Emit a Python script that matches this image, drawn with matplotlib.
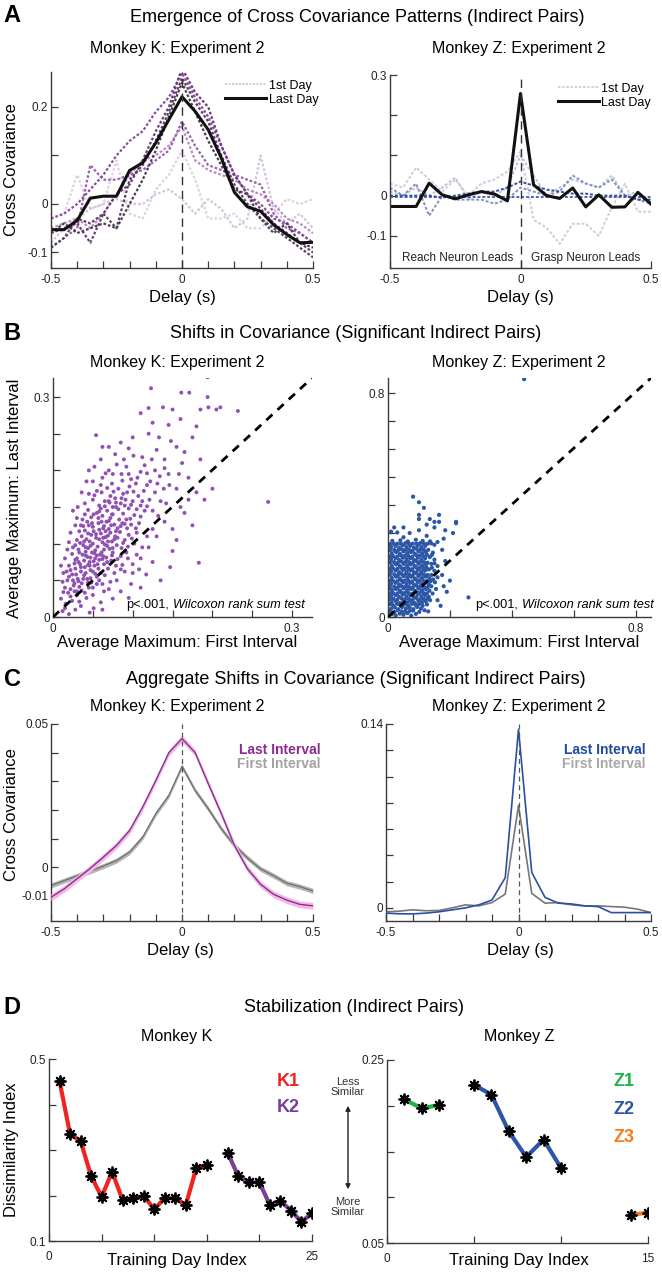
import numpy as np
import matplotlib
matplotlib.use('Agg')
import matplotlib.pyplot as plt
from matplotlib.lines import Line2D

plt.rcParams['font.family'] = ['Liberation Sans', 'DejaVu Sans']

# ---------------- DATA ----------------
delays = [-0.5, -0.45, -0.4, -0.35, -0.3, -0.25, -0.2, -0.15, -0.1, -0.05, 0.0,
          0.05, 0.1, 0.15, 0.2, 0.25, 0.3, 0.35, 0.4, 0.45, 0.5]

# Panel A, Monkey K: daily curves (dotted, first -> later days) and last day
ak_days = [
    [-0.03, -0.02, 0.06, -0.01, 0.0, 0.09, -0.02, -0.03, 0.03, 0.06, 0.11, 0.05, -0.03, -0.03, -0.02, -0.05, -0.05, -0.02, 0.01, 0.0, 0.01],
    [-0.08, -0.05, -0.03, -0.01, 0.0, 0.01, 0.0, 0.0, 0.02, 0.03, 0.01, -0.02, 0.01, -0.01, -0.05, -0.03, 0.10, -0.01, -0.04, -0.02, -0.05],
    [-0.05, -0.04, -0.03, -0.05, -0.02, 0.02, 0.06, 0.09, 0.10, 0.12, 0.16, 0.09, 0.07, 0.06, 0.05, 0.03, 0.02, 0.0, -0.03, -0.04, -0.06],
    [-0.09, -0.07, -0.05, 0.08, 0.05, 0.05, 0.06, 0.07, 0.09, 0.11, 0.17, 0.12, 0.08, 0.07, 0.06, 0.05, 0.04, -0.02, -0.05, -0.06, -0.08],
    [-0.03, -0.02, 0.0, 0.03, 0.06, 0.10, 0.13, 0.15, 0.19, 0.22, 0.27, 0.22, 0.18, 0.12, 0.06, 0.02, 0.0, -0.03, -0.04, -0.06, -0.08],
    [-0.06, -0.05, -0.04, -0.08, -0.02, 0.02, 0.04, 0.09, 0.15, 0.20, 0.28, 0.23, 0.20, 0.12, 0.06, 0.02, -0.01, -0.04, -0.06, -0.08, -0.10],
    [-0.09, -0.07, -0.03, -0.04, -0.02, -0.05, 0.05, 0.08, 0.13, 0.19, 0.26, 0.21, 0.17, 0.10, 0.04, 0.0, -0.03, -0.05, -0.07, -0.09, -0.11],
    [-0.06, -0.04, -0.06, -0.05, -0.04, -0.05, 0.0, 0.05, 0.11, 0.18, 0.25, 0.19, 0.13, 0.08, 0.03, 0.02, -0.03, -0.06, -0.04, -0.08, -0.09],
]
ak_last = [-0.053, -0.053, -0.034, 0.012, 0.016, 0.016, 0.069, 0.085, 0.126, 0.174, 0.221,
           0.191, 0.153, 0.095, 0.024, -0.006, -0.015, -0.043, -0.063, -0.080, -0.079]

# Panel A, Monkey Z
az_days = [
    [0.03, 0.02, 0.07, 0.04, 0.01, 0.04, 0.0, 0.03, 0.04, 0.06, 0.11, -0.06, -0.08, -0.12, -0.07, -0.07, -0.10, -0.03, 0.03, -0.04, -0.04],
    [0.01, 0.0, 0.02, 0.0, 0.02, 0.045, -0.01, 0.01, 0.0, 0.02, 0.10, 0.05, 0.0, 0.02, 0.04, 0.03, 0.02, 0.05, 0.0, 0.01, -0.02],
    [0.02, 0.0, 0.03, -0.05, 0.0, -0.01, -0.01, -0.01, -0.02, -0.01, 0.02, 0.01, 0.0, 0.01, 0.05, 0.03, 0.02, 0.04, 0.0, -0.01, -0.02],
    [-0.003, -0.003, -0.003, -0.003, -0.003, -0.003, -0.003, -0.003, -0.003, -0.003, -0.003, -0.003, -0.003, -0.003, -0.003, -0.003, -0.003, -0.003, -0.003, -0.003, -0.003],
    [0.0, 0.0, 0.0, 0.0, -0.005, 0.0, 0.005, 0.01, 0.01, 0.02, 0.035, 0.025, 0.015, 0.01, 0.005, 0.005, 0.0, 0.0, 0.0, -0.01, -0.01],
]
az_last = [-0.027, -0.027, -0.027, 0.031, 0.002, -0.008, 0.002, 0.010, 0.004, -0.013, 0.254,
           0.027, 0.0, -0.007, 0.019, -0.028, 0.002, -0.029, -0.028, 0.008, -0.021]

# Panel B, Monkey K scatter (first interval max, last interval max)
bk_pts = [
    (0.012, 0.008), (0.020, 0.004), (0.028, 0.010), (0.016, 0.018), (0.024, 0.022), (0.035, 0.015), (0.010, 0.025),
    (0.030, 0.030), (0.042, 0.026), (0.019, 0.033), (0.051, 0.012), (0.060, 0.020), (0.046, 0.006),
    (0.015, 0.040), (0.022, 0.038), (0.027, 0.046), (0.033, 0.041), (0.038, 0.052), (0.020, 0.055), (0.029, 0.058),
    (0.044, 0.047), (0.050, 0.040), (0.036, 0.036), (0.025, 0.050), (0.041, 0.060), (0.055, 0.055), (0.062, 0.045),
    (0.070, 0.038), (0.017, 0.062), (0.031, 0.052), (0.047, 0.053), (0.080, 0.050), (0.012, 0.048),
    (0.020, 0.070), (0.028, 0.066), (0.034, 0.072), (0.040, 0.068), (0.046, 0.075), (0.052, 0.070), (0.058, 0.078),
    (0.064, 0.072), (0.030, 0.080), (0.037, 0.085), (0.043, 0.082), (0.049, 0.088), (0.055, 0.084), (0.061, 0.088),
    (0.067, 0.081), (0.073, 0.077), (0.079, 0.070), (0.024, 0.086), (0.085, 0.083), (0.032, 0.075), (0.047, 0.064),
    (0.057, 0.066), (0.069, 0.066), (0.090, 0.062), (0.100, 0.072), (0.015, 0.080), (0.039, 0.077), (0.062, 0.079),
    (0.075, 0.088), (0.053, 0.080),
    (0.025, 0.095), (0.032, 0.092), (0.038, 0.098), (0.044, 0.094), (0.050, 0.100), (0.056, 0.096), (0.062, 0.102),
    (0.068, 0.097), (0.074, 0.103), (0.080, 0.098), (0.030, 0.105), (0.036, 0.110), (0.042, 0.106), (0.048, 0.112),
    (0.054, 0.108), (0.060, 0.114), (0.066, 0.109), (0.072, 0.115), (0.078, 0.110), (0.084, 0.116), (0.090, 0.105),
    (0.040, 0.118), (0.058, 0.119), (0.070, 0.120), (0.095, 0.112), (0.020, 0.102), (0.046, 0.103), (0.064, 0.092),
    (0.086, 0.094), (0.102, 0.100),
    (0.035, 0.125), (0.043, 0.130), (0.050, 0.123), (0.057, 0.128), (0.064, 0.124), (0.070, 0.131), (0.077, 0.126),
    (0.083, 0.133), (0.090, 0.127), (0.097, 0.134), (0.040, 0.140), (0.048, 0.136), (0.055, 0.142), (0.062, 0.138),
    (0.068, 0.145), (0.075, 0.140), (0.082, 0.147), (0.088, 0.141), (0.095, 0.148), (0.102, 0.139), (0.030, 0.135),
    (0.108, 0.128), (0.060, 0.148), (0.072, 0.135), (0.115, 0.145), (0.025, 0.145),
    (0.040, 0.155), (0.050, 0.160), (0.058, 0.152), (0.065, 0.158), (0.072, 0.165), (0.079, 0.156), (0.086, 0.162),
    (0.093, 0.170), (0.100, 0.158), (0.107, 0.165), (0.114, 0.172), (0.121, 0.160), (0.055, 0.172), (0.068, 0.176),
    (0.082, 0.175), (0.096, 0.178), (0.110, 0.152), (0.128, 0.170), (0.045, 0.168), (0.135, 0.158), (0.075, 0.150),
    (0.090, 0.152),
    (0.050, 0.185), (0.062, 0.190), (0.074, 0.182), (0.086, 0.195), (0.098, 0.188), (0.110, 0.198), (0.122, 0.185),
    (0.134, 0.192), (0.146, 0.180), (0.070, 0.200), (0.092, 0.205), (0.115, 0.207), (0.140, 0.203), (0.158, 0.195),
    (0.045, 0.200), (0.128, 0.200), (0.104, 0.182), (0.080, 0.208),
    (0.060, 0.215), (0.078, 0.222), (0.095, 0.230), (0.112, 0.218), (0.130, 0.228), (0.148, 0.240), (0.165, 0.225),
    (0.100, 0.245), (0.120, 0.250), (0.085, 0.238), (0.140, 0.215), (0.175, 0.245), (0.155, 0.232), (0.070, 0.232),
    (0.185, 0.215),
    (0.054, 0.248), (0.125, 0.265), (0.145, 0.262), (0.160, 0.270), (0.110, 0.278), (0.180, 0.260), (0.138, 0.286),
    (0.120, 0.285), (0.150, 0.283), (0.185, 0.283), (0.205, 0.283), (0.195, 0.286), (0.232, 0.281), (0.123, 0.312),
    (0.161, 0.306), (0.171, 0.306), (0.194, 0.300), (0.194, 0.327), (0.210, 0.286),
    (0.100, 0.060), (0.110, 0.080), (0.120, 0.095), (0.130, 0.110), (0.140, 0.130), (0.150, 0.120), (0.160, 0.150),
    (0.170, 0.160), (0.180, 0.170), (0.125, 0.075), (0.135, 0.050), (0.150, 0.090), (0.147, 0.068), (0.117, 0.058),
    (0.165, 0.142), (0.190, 0.160), (0.200, 0.175), (0.175, 0.125), (0.155, 0.105), (0.270, 0.157), (0.098, 0.045),
    (0.085, 0.035), (0.075, 0.025), (0.110, 0.040), (0.062, 0.010), (0.095, 0.026), (0.183, 0.074),
    (0.033, 0.088), (0.041, 0.095), (0.047, 0.081), (0.053, 0.091), (0.059, 0.085), (0.065, 0.099), (0.071, 0.093),
    (0.077, 0.106), (0.039, 0.103), (0.051, 0.117), (0.063, 0.121), (0.069, 0.111), (0.081, 0.121), (0.087, 0.128),
    (0.057, 0.135), (0.045, 0.125), (0.093, 0.121), (0.067, 0.130), (0.074, 0.140), (0.079, 0.150), (0.035, 0.062),
    (0.027, 0.073), (0.022, 0.064), (0.044, 0.071), (0.050, 0.062), (0.060, 0.060), (0.036, 0.046), (0.045, 0.040),
    (0.018, 0.050), (0.030, 0.035),
    (0.026, 0.043), (0.032, 0.049), (0.039, 0.057), (0.024, 0.058), (0.043, 0.052), (0.048, 0.047), (0.053, 0.059),
    (0.058, 0.050), (0.065, 0.057), (0.072, 0.048),
    (0.028, 0.078), (0.035, 0.068), (0.041, 0.084), (0.046, 0.070), (0.051, 0.076), (0.056, 0.072), (0.063, 0.083),
    (0.068, 0.075), (0.074, 0.084), (0.081, 0.079), (0.087, 0.071), (0.094, 0.080),
    (0.028, 0.098), (0.034, 0.101), (0.041, 0.089), (0.047, 0.097), (0.052, 0.087), (0.058, 0.106), (0.063, 0.108),
    (0.069, 0.103), (0.075, 0.094), (0.081, 0.108), (0.088, 0.101), (0.094, 0.096), (0.099, 0.107), (0.105, 0.115),
    (0.033, 0.117), (0.038, 0.124), (0.044, 0.114), (0.049, 0.128), (0.054, 0.113), (0.061, 0.130), (0.066, 0.117),
    (0.073, 0.125), (0.079, 0.117), (0.085, 0.124), (0.092, 0.133), (0.098, 0.126), (0.104, 0.121), (0.110, 0.137),
    (0.037, 0.133), (0.044, 0.146), (0.051, 0.140), (0.058, 0.144), (0.065, 0.151), (0.071, 0.156), (0.078, 0.162),
    (0.085, 0.155), (0.091, 0.160), (0.098, 0.153), (0.105, 0.147), (0.112, 0.158), (0.118, 0.151),
    (0.052, 0.166), (0.061, 0.170), (0.070, 0.158), (0.076, 0.171), (0.088, 0.168), (0.101, 0.171), (0.118, 0.180),
    (0.125, 0.145), (0.131, 0.182), (0.139, 0.175), (0.087, 0.186), (0.095, 0.195), (0.106, 0.190), (0.118, 0.196),
    (0.060, 0.180), (0.066, 0.196),
    (0.015, 0.012), (0.022, 0.028), (0.033, 0.021), (0.040, 0.033), (0.027, 0.035), (0.013, 0.034), (0.050, 0.030),
    (0.055, 0.045), (0.064, 0.035), (0.077, 0.060), (0.085, 0.065), (0.092, 0.088), (0.105, 0.085), (0.112, 0.095),
    (0.118, 0.110), (0.125, 0.120), (0.132, 0.138), (0.142, 0.155), (0.108, 0.065),
    (0.013, 0.060), (0.010, 0.070), (0.018, 0.092), (0.022, 0.115), (0.028, 0.125), (0.031, 0.150), (0.036, 0.170),
    (0.042, 0.185), (0.052, 0.205), (0.062, 0.232), (0.075, 0.195), (0.089, 0.215), (0.101, 0.220), (0.124, 0.215),
    (0.133, 0.245), (0.145, 0.195), (0.155, 0.175), (0.162, 0.210), (0.170, 0.190),
]

# Panel B, Monkey Z scatter
bz_pts = [
    (0.012, 0.010), (0.025, 0.006), (0.038, 0.012), (0.050, 0.008), (0.063, 0.014), (0.075, 0.005), (0.090, 0.011),
    (0.020, 0.018), (0.045, 0.020), (0.070, 0.022),
    (0.010, 0.030), (0.022, 0.034), (0.034, 0.028), (0.046, 0.036), (0.058, 0.030), (0.070, 0.034), (0.082, 0.028),
    (0.094, 0.036), (0.106, 0.030), (0.016, 0.042), (0.040, 0.044), (0.064, 0.042), (0.088, 0.044), (0.112, 0.040),
    (0.012, 0.052), (0.026, 0.056), (0.038, 0.050), (0.050, 0.058), (0.062, 0.052), (0.074, 0.056), (0.086, 0.050),
    (0.098, 0.058), (0.110, 0.052), (0.122, 0.056), (0.018, 0.064), (0.044, 0.066), (0.068, 0.064), (0.092, 0.068),
    (0.116, 0.064), (0.136, 0.060),
    (0.010, 0.074), (0.024, 0.078), (0.036, 0.072), (0.048, 0.080), (0.060, 0.074), (0.072, 0.078), (0.084, 0.072),
    (0.096, 0.080), (0.108, 0.074), (0.120, 0.078), (0.132, 0.072), (0.016, 0.086), (0.042, 0.088), (0.066, 0.086),
    (0.090, 0.090), (0.114, 0.086), (0.144, 0.084),
    (0.012, 0.096), (0.026, 0.100), (0.038, 0.094), (0.050, 0.102), (0.062, 0.096), (0.074, 0.100), (0.086, 0.094),
    (0.098, 0.102), (0.110, 0.096), (0.122, 0.100), (0.134, 0.094), (0.020, 0.108), (0.044, 0.110), (0.068, 0.108),
    (0.092, 0.112), (0.116, 0.108), (0.140, 0.110), (0.155, 0.100),
    (0.010, 0.118), (0.024, 0.122), (0.036, 0.116), (0.048, 0.124), (0.060, 0.118), (0.072, 0.122), (0.084, 0.116),
    (0.096, 0.124), (0.108, 0.118), (0.120, 0.122), (0.132, 0.116), (0.016, 0.130), (0.042, 0.132), (0.066, 0.130),
    (0.090, 0.134), (0.114, 0.130), (0.138, 0.128), (0.152, 0.124),
    (0.012, 0.140), (0.026, 0.144), (0.038, 0.138), (0.050, 0.146), (0.062, 0.140), (0.074, 0.144), (0.086, 0.138),
    (0.098, 0.146), (0.110, 0.140), (0.122, 0.144), (0.134, 0.138), (0.020, 0.152), (0.044, 0.154), (0.068, 0.152),
    (0.092, 0.156), (0.116, 0.152), (0.140, 0.150), (0.160, 0.142),
    (0.010, 0.162), (0.024, 0.166), (0.036, 0.160), (0.048, 0.168), (0.060, 0.162), (0.072, 0.166), (0.084, 0.160),
    (0.096, 0.168), (0.108, 0.162), (0.120, 0.166), (0.016, 0.174), (0.042, 0.176), (0.066, 0.174), (0.090, 0.178),
    (0.114, 0.174), (0.132, 0.170), (0.150, 0.165),
    (0.012, 0.184), (0.026, 0.188), (0.038, 0.182), (0.050, 0.190), (0.062, 0.184), (0.074, 0.188), (0.086, 0.182),
    (0.098, 0.190), (0.110, 0.184), (0.122, 0.188), (0.020, 0.196), (0.044, 0.198), (0.068, 0.196), (0.092, 0.200),
    (0.116, 0.196), (0.140, 0.190), (0.160, 0.182),
    (0.010, 0.206), (0.024, 0.210), (0.036, 0.204), (0.048, 0.212), (0.060, 0.206), (0.072, 0.210), (0.084, 0.204),
    (0.096, 0.212), (0.108, 0.206), (0.120, 0.210), (0.016, 0.218), (0.042, 0.220), (0.066, 0.218), (0.090, 0.222),
    (0.114, 0.218), (0.135, 0.214), (0.150, 0.205),
    (0.012, 0.228), (0.026, 0.232), (0.038, 0.226), (0.050, 0.234), (0.062, 0.228), (0.074, 0.232), (0.086, 0.226),
    (0.098, 0.234), (0.110, 0.228), (0.122, 0.232), (0.020, 0.240), (0.044, 0.242), (0.068, 0.240), (0.092, 0.244),
    (0.130, 0.240), (0.145, 0.230),
    (0.010, 0.250), (0.024, 0.254), (0.036, 0.248), (0.048, 0.256), (0.060, 0.250), (0.072, 0.254), (0.084, 0.248),
    (0.096, 0.256), (0.108, 0.250), (0.120, 0.254), (0.030, 0.262), (0.056, 0.264), (0.080, 0.262), (0.104, 0.264),
    (0.128, 0.262), (0.150, 0.258),
    (0.014, 0.272), (0.040, 0.274), (0.064, 0.270), (0.090, 0.276), (0.112, 0.272), (0.136, 0.270), (0.050, 0.285),
    (0.160, 0.268), (0.125, 0.290),
    (0.006, 0.021), (0.031, 0.024), (0.056, 0.019), (0.081, 0.023), (0.101, 0.018), (0.118, 0.024),
    (0.006, 0.046), (0.029, 0.047), (0.052, 0.045), (0.076, 0.047), (0.100, 0.046), (0.126, 0.045),
    (0.006, 0.063), (0.030, 0.062), (0.056, 0.064), (0.080, 0.061), (0.104, 0.063), (0.128, 0.066),
    (0.006, 0.085), (0.030, 0.084), (0.054, 0.086), (0.078, 0.083), (0.102, 0.087), (0.126, 0.085),
    (0.006, 0.107), (0.032, 0.106), (0.056, 0.108), (0.080, 0.105), (0.104, 0.109), (0.128, 0.106),
    (0.006, 0.129), (0.030, 0.128), (0.054, 0.130), (0.078, 0.127), (0.102, 0.131), (0.126, 0.128), (0.146, 0.134),
    (0.006, 0.151), (0.032, 0.150), (0.056, 0.152), (0.080, 0.149), (0.104, 0.153), (0.128, 0.150),
    (0.006, 0.173), (0.030, 0.172), (0.054, 0.174), (0.078, 0.171), (0.102, 0.175), (0.124, 0.178), (0.142, 0.176),
    (0.006, 0.195), (0.032, 0.194), (0.056, 0.196), (0.080, 0.193), (0.104, 0.197), (0.128, 0.194), (0.150, 0.192),
    (0.006, 0.217), (0.030, 0.216), (0.054, 0.218), (0.078, 0.215), (0.102, 0.219), (0.126, 0.222), (0.142, 0.222),
    (0.006, 0.239), (0.032, 0.238), (0.056, 0.240), (0.080, 0.237), (0.104, 0.241), (0.116, 0.240),
    (0.006, 0.261), (0.018, 0.262), (0.042, 0.262), (0.068, 0.262), (0.092, 0.262), (0.116, 0.262), (0.140, 0.263),
    (0.010, 0.305), (0.030, 0.302), (0.070, 0.300), (0.100, 0.310), (0.125, 0.330), (0.150, 0.320), (0.165, 0.340),
    (0.185, 0.310), (0.220, 0.335), (0.165, 0.365), (0.100, 0.365), (0.210, 0.300), (0.180, 0.280), (0.175, 0.240),
    (0.185, 0.200), (0.175, 0.150), (0.180, 0.110), (0.160, 0.060), (0.170, 0.040), (0.190, 0.090), (0.200, 0.130),
    (0.130, 0.020), (0.260, 0.070),
    (0.081, 0.430), (0.100, 0.410), (0.116, 0.390), (0.100, 0.350), (0.135, 0.350), (0.150, 0.340), (0.220, 0.340),
    (0.020, 0.320), (0.050, 0.320), (0.440, 0.850),
]

# Panel C: aggregate cross covariance
ck_last = [-0.0105, -0.0076, -0.0040, -0.0004, 0.0035, 0.0076, 0.0128, 0.0210, 0.0303, 0.0400, 0.0449,
           0.0400, 0.0292, 0.0187, 0.0076, -0.0006, -0.0060, -0.0095, -0.0115, -0.0130, -0.0135]
ck_first = [-0.0064, -0.0047, -0.0030, -0.0014, 0.0004, 0.0023, 0.0053, 0.0105, 0.0187, 0.0251, 0.0352,
            0.0268, 0.0204, 0.0134, 0.0076, 0.0032, -0.0006, -0.0030, -0.0056, -0.0068, -0.0083]
ck_last_sem = 0.0012
ck_first_sem = 0.0009
cz_last = [-0.0040, -0.0045, -0.0046, -0.0040, -0.0030, -0.0015, 0.0000, 0.0023, 0.0060, 0.0230, 0.1360,
           0.0270, 0.0080, 0.0036, 0.0030, 0.0015, 0.0010, -0.0036, -0.0036, -0.0036, -0.0036]
cz_first = [-0.0030, -0.0025, -0.0015, -0.0022, -0.0020, 0.0000, 0.0023, 0.0015, 0.0040, 0.0105, 0.0780,
            0.0110, 0.0036, 0.0040, 0.0023, 0.0015, 0.0015, 0.0010, 0.0005, -0.0010, -0.0036]

# Panel D: dissimilarity index per training day
k1_days = [1, 2, 3, 4, 5, 6, 7, 8, 9, 10, 11, 12, 13, 14, 15]
k1_vals = [0.452, 0.335, 0.320, 0.243, 0.197, 0.252, 0.190, 0.194, 0.199, 0.170, 0.194, 0.194, 0.179, 0.260, 0.267]
k2_days = [17, 18, 19, 20, 21, 22, 23, 24, 25]
k2_vals = [0.293, 0.242, 0.229, 0.229, 0.179, 0.188, 0.167, 0.142, 0.161]
z1_days = [1, 2, 3]
z1_vals = [0.207, 0.197, 0.201]
z2_days = [5, 6, 7, 8, 9, 10]
z2_vals = [0.223, 0.212, 0.172, 0.144, 0.163, 0.132]
z3_days = [14, 15]
z3_vals = [0.081, 0.083]

# ---------------- FIGURE ----------------
W, H = 662, 1273
fig = plt.figure(figsize=(W / 100, H / 100), dpi=100)


def ax_px(l, t, r, b):
    return fig.add_axes([l / W, 1 - b / H, (r - l) / W, (b - t) / H])


def txt(x, y, s, **kw):
    kw.setdefault('ha', 'center')
    kw.setdefault('va', 'center')
    fig.text(x / W, 1 - y / H, s, **kw)


def style(ax, xt, xl, yt, yl, xlim, ylim):
    for s in ['top', 'right']:
        ax.spines[s].set_visible(False)
    for s in ['left', 'bottom']:
        ax.spines[s].set_color('#3a3a3a')
        ax.spines[s].set_linewidth(1.0)
    ax.set_xlim(*xlim)
    ax.set_ylim(*ylim)
    ax.set_xticks(xt)
    ax.set_xticklabels(xl)
    ax.set_yticks(yt)
    ax.set_yticklabels(yl)
    ax.tick_params(direction='in', length=5, width=0.9, color='#3a3a3a',
                   labelsize=8.5, labelcolor='#222222')
    ax.tick_params(axis='x', pad=4)
    ax.tick_params(axis='y', pad=2)


dtick = [-0.5, -0.4, -0.3, -0.2, -0.1, 0, 0.1, 0.2, 0.3, 0.4, 0.5]
dlab = ['-0.5', '', '', '', '', '0', '', '', '', '', '0.5']

# ---- Panel A ----
txt(12, 15, 'A', fontsize=17, fontweight='bold')
txt(357, 18, 'Emergence of Cross Covariance Patterns (Indirect Pairs)', fontsize=13)
txt(177, 48, 'Monkey K: Experiment 2', fontsize=11.5)
txt(519, 48, 'Monkey Z: Experiment 2', fontsize=11.5)

axA1 = ax_px(51, 72, 313, 268)
style(axA1, dtick, dlab, [-0.1, 0, 0.1, 0.2], ['-0.1', '0', '', '0.2'], (-0.5, 0.5), (-0.132, 0.272))
ak_cols = ['#ddd3e0', '#d3c6da', '#b58cc2', '#9b62ae', '#8c4ca0', '#6b3d7a', '#5b4262', '#4e3b56']
for vals, c in zip(ak_days, ak_cols):
    axA1.plot(delays, vals, color=c, lw=1.6, ls=(0, (1.2, 0.9)))
axA1.plot(delays, ak_last, color='#111111', lw=2.2)
axA1.axvline(0, color='#333333', lw=1.0, dashes=(6, 4))
h1 = [Line2D([], [], color='#cdbfd5', lw=1.2, ls=(0, (1.2, 0.9))), Line2D([], [], color='#111111', lw=2.2)]
axA1.legend(h1, ['1st Day', 'Last Day'], loc='upper right', bbox_to_anchor=(1.02, 0.96), frameon=False,
            fontsize=9, handlelength=3.3, handletextpad=0.2, labelspacing=0.15, borderpad=0, borderaxespad=0)

axA2 = ax_px(390, 75, 651, 268)
style(axA2, [-0.5, 0, 0.5], ['-0.5', '0', '0.5'], [-0.1, 0, 0.1, 0.2, 0.3], ['-0.1', '0', '', '', '0.3'],
      (-0.5, 0.5), (-0.18, 0.3))
az_cols = ['#cdcde0', '#c0c4dc', '#8290c2', '#4a66b0', '#354f95']
for vals, c in zip(az_days, az_cols):
    axA2.plot(delays, vals, color=c, lw=1.4, ls=(0, (1.5, 1.0)))
axA2.plot(delays, az_last, color='#111111', lw=2.2)
axA2.axvline(0, color='#333333', lw=1.0, dashes=(6, 4))
h2 = [Line2D([], [], color='#c6c8dc', lw=1.2, ls=(0, (1.5, 1.0))), Line2D([], [], color='#111111', lw=2.2)]
axA2.legend(h2, ['1st Day', 'Last Day'], loc='upper right', bbox_to_anchor=(1.0, 0.96), frameon=False,
            fontsize=9, handlelength=3.3, handletextpad=0.2, labelspacing=0.15, borderpad=0, borderaxespad=0)
axA2.text(-0.24, -0.155, 'Reach Neuron Leads', fontsize=8.5, ha='center', va='center', color='#222222')
axA2.text(0.25, -0.155, 'Grasp Neuron Leads', fontsize=8.5, ha='center', va='center', color='#222222')

txt(12, 170, 'Cross Covariance', fontsize=12, rotation=90)
txt(182, 297, 'Delay (s)', fontsize=12)
txt(520, 297, 'Delay (s)', fontsize=12)

# ---- Panel B ----
txt(12, 333, 'B', fontsize=17, fontweight='bold')
txt(356, 333, 'Shifts in Covariance (Significant Indirect Pairs)', fontsize=13)
txt(177, 362, 'Monkey K: Experiment 2', fontsize=11.5)
txt(519, 362, 'Monkey Z: Experiment 2', fontsize=11.5)

bk = np.array(bk_pts)
axB1 = ax_px(53, 378, 312, 617)
bt = [0, 0.05, 0.1, 0.15, 0.2, 0.25, 0.3]
style(axB1, bt, ['0', '', '', '', '', '', '0.3'], bt, ['0', '', '', '', '', '', '0.3'], (0, 0.325), (0, 0.326))
axB1.scatter(bk[:, 0], bk[:, 1], s=8, color='#9150b4', edgecolors='none', zorder=2)
axB1.plot([0, 0.325], [0, 0.326], color='black', lw=2, dashes=(3, 2.5), zorder=3)
axB1.text(0.448, 0.05, 'p<.001,', transform=axB1.transAxes, fontsize=9.2, ha='right', va='center', zorder=4)
axB1.text(0.463, 0.05, 'Wilcoxon rank sum test', transform=axB1.transAxes, fontsize=9.2, ha='left',
          va='center', style='italic', zorder=4)

bz = np.array(bz_pts)
axB2 = ax_px(388, 378, 651, 617)
style(axB2, [0, 0.2, 0.4, 0.6, 0.8], ['0', '', '', '', '0.8'],
      [0, 0.1, 0.2, 0.3, 0.4, 0.5, 0.6, 0.7, 0.8], ['0', '', '', '', '', '', '', '', '0.8'], (0, 0.85), (0, 0.854))
axB2.scatter(bz[:, 0], bz[:, 1], s=9, color='#2b57a6', edgecolors='none', zorder=2)
axB2.plot([0, 0.85], [0, 0.854], color='black', lw=2, dashes=(3, 2.5), zorder=3)
axB2.text(0.494, 0.05, 'p<.001,', transform=axB2.transAxes, fontsize=9.2, ha='right', va='center', zorder=4)
axB2.text(0.510, 0.05, 'Wilcoxon rank sum test', transform=axB2.transAxes, fontsize=9.2, ha='left',
          va='center', style='italic', zorder=4)

txt(15, 498, 'Average Maximum: Last Interval', fontsize=12, rotation=90)
txt(177, 643, 'Average Maximum: First Interval', fontsize=12)
txt(519, 643, 'Average Maximum: First Interval', fontsize=12)

# ---- Panel C ----
txt(12, 680, 'C', fontsize=17, fontweight='bold')
txt(356, 680, 'Aggregate Shifts in Covariance (Significant Indirect Pairs)', fontsize=13)
txt(177, 707, 'Monkey K: Experiment 2', fontsize=11.5)
txt(519, 707, 'Monkey Z: Experiment 2', fontsize=11.5)

axC1 = ax_px(51, 724, 313, 921)
style(axC1, dtick, dlab, [-0.01, 0, 0.01, 0.02, 0.03, 0.04, 0.05], ['-0.01', '0', '', '', '', '', '0.05'],
      (-0.5, 0.5), (-0.0188, 0.05))
ckl = np.array(ck_last)
ckf = np.array(ck_first)
axC1.fill_between(delays, ckf - ck_first_sem, ckf + ck_first_sem, color='#b5b5b5', lw=0, zorder=1)
axC1.plot(delays, ckf, color='#6e6e6e', lw=0.9, zorder=2)
axC1.fill_between(delays, ckl - ck_last_sem, ckl + ck_last_sem, color='#f4b9e8', lw=0, zorder=3)
axC1.plot(delays, ckl, color='#86308c', lw=1.0, zorder=4)
axC1.axvline(0, color='#555555', lw=0.9, dashes=(4, 3), zorder=5)
axC1.text(1.03, 0.87, 'Last Interval', transform=axC1.transAxes, fontsize=10, fontweight='bold',
          color='#8b2c8f', ha='right', va='center')
axC1.text(1.03, 0.795, 'First Interval', transform=axC1.transAxes, fontsize=10, fontweight='bold',
          color='#a2a2a2', ha='right', va='center')

axC2 = ax_px(386, 724, 651, 921)
style(axC2, dtick, dlab, [0, 0.02, 0.04, 0.06, 0.08, 0.1, 0.12, 0.14], ['0', '', '', '', '', '', '', '0.14'],
      (-0.5, 0.5), (-0.01, 0.14))
axC2.plot(delays, cz_first, color='#777777', lw=1.2, zorder=2)
axC2.plot(delays, cz_last, color='#2a50a2', lw=1.2, zorder=3)
axC2.axvline(0, color='#555555', lw=0.9, dashes=(4, 3), zorder=5)
axC2.text(0.98, 0.87, 'Last Interval', transform=axC2.transAxes, fontsize=10, fontweight='bold',
          color='#1f4c9c', ha='right', va='center')
axC2.text(0.98, 0.795, 'First Interval', transform=axC2.transAxes, fontsize=10, fontweight='bold',
          color='#a8a8a8', ha='right', va='center')

txt(12, 815, 'Cross Covariance', fontsize=12, rotation=90)
txt(180, 950, 'Delay (s)', fontsize=12)
txt(520, 950, 'Delay (s)', fontsize=12)

# ---- Panel D ----
txt(12, 1008, 'D', fontsize=17, fontweight='bold')
txt(354, 1008, 'Stabilization (Indirect Pairs)', fontsize=13)
txt(177, 1037, 'Monkey K', fontsize=11.5)
txt(519, 1037, 'Monkey Z', fontsize=11.5)


def dline(ax, x, y, c):
    ax.plot(x, y, color=c, lw=3, zorder=2)
    ax.plot(x, y, ls='none', marker='o', ms=5, color='black', zorder=3)
    ax.plot(x, y, ls='none', marker=(8, 2, 0), ms=8.5, mew=1.3, color='black', zorder=3)


axD1 = ax_px(49, 1059, 312, 1241)
style(axD1, [0, 5, 10, 15, 20, 25], ['0', '', '', '', '', '25'], [0.1, 0.2, 0.3, 0.4, 0.5],
      ['0.1', '', '', '', '0.5'], (0, 25), (0.1, 0.5))
axD1.tick_params(axis='x', pad=7)
dline(axD1, k1_days, k1_vals, '#f02222')
dline(axD1, k2_days, k2_vals, '#7a3d98')
txt(288, 1082, 'K1', fontsize=13, fontweight='bold', color='#f02222')
txt(288, 1107, 'K2', fontsize=13, fontweight='bold', color='#7a3d98')

axD2 = ax_px(387, 1060, 648, 1243)
style(axD2, [0, 5, 10, 15], ['0', '', '', '15'], [0.05, 0.1, 0.15, 0.2, 0.25],
      ['0.05', '', '', '', '0.25'], (0, 15), (0.05, 0.25))
axD2.tick_params(axis='x', pad=7)
dline(axD2, z1_days, z1_vals, '#1db24a')
dline(axD2, z2_days, z2_vals, '#2b55a8')
dline(axD2, z3_days, z3_vals, '#f47b20')
txt(624, 1082, 'Z1', fontsize=13, fontweight='bold', color='#1db24a')
txt(624, 1110, 'Z2', fontsize=13, fontweight='bold', color='#2b55a8')
txt(624, 1137, 'Z3', fontsize=13, fontweight='bold', color='#f47b20')

txt(348, 1087, 'Less\nSimilar', fontsize=8, linespacing=1.1, color='#333333')
txt(348, 1207, 'More\nSimilar', fontsize=8, linespacing=1.1, color='#333333')
fig.add_artist(matplotlib.patches.FancyArrowPatch((348 / W, 1 - 1103 / H), (348 / W, 1 - 1192 / H),
                                                  transform=fig.transFigure, arrowstyle='<|-|>',
                                                  mutation_scale=7, lw=1.0, color='#222222'))

txt(12, 1150, 'Dissimilarity Index', fontsize=12, rotation=90)
txt(177, 1261, 'Training Day Index', fontsize=12)
txt(519, 1261, 'Training Day Index', fontsize=12)

fig.savefig('out.png', dpi=100)
